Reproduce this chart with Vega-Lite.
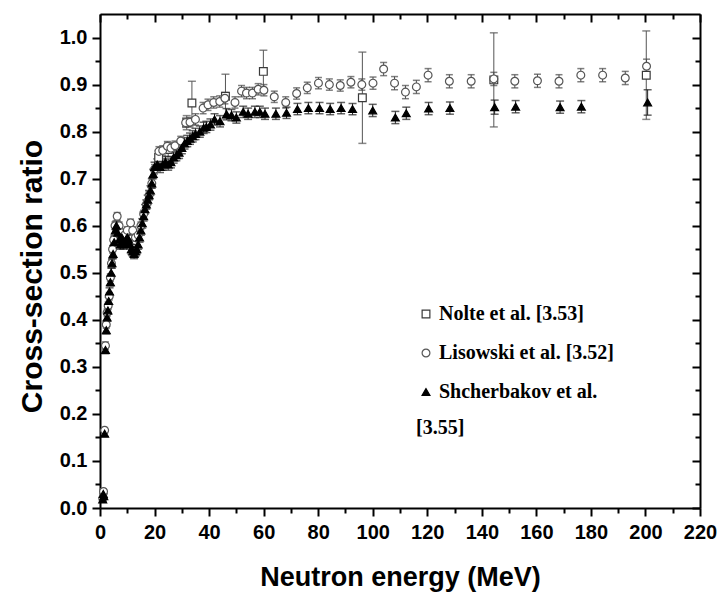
{
  "$schema": "https://vega.github.io/schema/vega-lite/v6.json",
  "width": 600,
  "height": 494,
  "autosize": {"type": "none"},
  "padding": {"left": 100, "top": 14, "right": 19, "bottom": 86},
  "background": "white",
  "config": {
    "view": {"stroke": null},
    "axis": {
      "grid": false,
      "domainColor": "black",
      "domainWidth": 2,
      "tickColor": "black",
      "tickWidth": 2,
      "labelFont": "Liberation Sans",
      "labelFontWeight": "bold",
      "labelFontSize": 20,
      "labelColor": "black",
      "titleFont": "Liberation Sans",
      "titleFontWeight": "bold",
      "titleFontSize": 27,
      "titleColor": "black"
    },
    "legend": {
      "padding": 0,
      "labelFont": "Liberation Serif",
      "labelFontWeight": "bold",
      "labelFontSize": 20,
      "labelColor": "black",
      "labelLimit": 400,
      "symbolStrokeWidth": 1.2,
      "rowPadding": 19,
      "labelOffset": 3,
      "titleFont": "Liberation Serif",
      "titleFontWeight": "bold",
      "titleFontSize": 20,
      "titleColor": "black",
      "titleOrient": "bottom",
      "titleAnchor": "start",
      "titleBaseline": "top",
      "titlePadding": 16
    }
  },
  "datasets": {
    "ratios": [
      {"series": "Nolte et al. [3.53]", "energy": 21.5, "ratio": 0.745, "error": 0.015},
      {"series": "Nolte et al. [3.53]", "energy": 25.0, "ratio": 0.762, "error": 0.015},
      {"series": "Nolte et al. [3.53]", "energy": 31.8, "ratio": 0.819, "error": 0.015},
      {"series": "Nolte et al. [3.53]", "energy": 33.7, "ratio": 0.861, "error": 0.046},
      {"series": "Nolte et al. [3.53]", "energy": 46.0, "ratio": 0.875, "error": 0.047},
      {"series": "Nolte et al. [3.53]", "energy": 59.9, "ratio": 0.928, "error": 0.045},
      {"series": "Nolte et al. [3.53]", "energy": 96.2, "ratio": 0.872, "error": 0.097},
      {"series": "Nolte et al. [3.53]", "energy": 144.4, "ratio": 0.91, "error": 0.1},
      {"series": "Nolte et al. [3.53]", "energy": 200.3, "ratio": 0.92, "error": 0.094},

      {"series": "Lisowski et al. [3.52]", "energy": 1.0, "ratio": 0.02, "error": 0.005},
      {"series": "Lisowski et al. [3.52]", "energy": 1.3, "ratio": 0.035, "error": 0.005},
      {"series": "Lisowski et al. [3.52]", "energy": 1.7, "ratio": 0.165, "error": 0.006},
      {"series": "Lisowski et al. [3.52]", "energy": 2.0, "ratio": 0.345, "error": 0.008},
      {"series": "Lisowski et al. [3.52]", "energy": 2.3, "ratio": 0.39, "error": 0.008},
      {"series": "Lisowski et al. [3.52]", "energy": 2.6, "ratio": 0.415, "error": 0.008},
      {"series": "Lisowski et al. [3.52]", "energy": 3.0, "ratio": 0.43, "error": 0.008},
      {"series": "Lisowski et al. [3.52]", "energy": 3.4, "ratio": 0.45, "error": 0.008},
      {"series": "Lisowski et al. [3.52]", "energy": 3.8, "ratio": 0.49, "error": 0.008},
      {"series": "Lisowski et al. [3.52]", "energy": 4.2, "ratio": 0.52, "error": 0.008},
      {"series": "Lisowski et al. [3.52]", "energy": 4.6, "ratio": 0.55, "error": 0.008},
      {"series": "Lisowski et al. [3.52]", "energy": 5.0, "ratio": 0.57, "error": 0.008},
      {"series": "Lisowski et al. [3.52]", "energy": 5.5, "ratio": 0.6, "error": 0.008},
      {"series": "Lisowski et al. [3.52]", "energy": 6.3, "ratio": 0.62, "error": 0.008},
      {"series": "Lisowski et al. [3.52]", "energy": 7.0, "ratio": 0.6, "error": 0.008},
      {"series": "Lisowski et al. [3.52]", "energy": 8.0, "ratio": 0.585, "error": 0.008},
      {"series": "Lisowski et al. [3.52]", "energy": 9.0, "ratio": 0.58, "error": 0.008},
      {"series": "Lisowski et al. [3.52]", "energy": 10.0, "ratio": 0.59, "error": 0.008},
      {"series": "Lisowski et al. [3.52]", "energy": 11.2, "ratio": 0.606, "error": 0.008},
      {"series": "Lisowski et al. [3.52]", "energy": 12.0, "ratio": 0.59, "error": 0.008},
      {"series": "Lisowski et al. [3.52]", "energy": 13.0, "ratio": 0.575, "error": 0.008},
      {"series": "Lisowski et al. [3.52]", "energy": 14.0, "ratio": 0.58, "error": 0.008},
      {"series": "Lisowski et al. [3.52]", "energy": 15.0, "ratio": 0.6, "error": 0.008},
      {"series": "Lisowski et al. [3.52]", "energy": 16.0, "ratio": 0.625, "error": 0.008},
      {"series": "Lisowski et al. [3.52]", "energy": 17.0, "ratio": 0.645, "error": 0.008},
      {"series": "Lisowski et al. [3.52]", "energy": 18.0, "ratio": 0.665, "error": 0.008},
      {"series": "Lisowski et al. [3.52]", "energy": 19.0, "ratio": 0.69, "error": 0.01},
      {"series": "Lisowski et al. [3.52]", "energy": 20.0, "ratio": 0.72, "error": 0.01},
      {"series": "Lisowski et al. [3.52]", "energy": 21.6, "ratio": 0.758, "error": 0.01},
      {"series": "Lisowski et al. [3.52]", "energy": 23.0, "ratio": 0.76, "error": 0.01},
      {"series": "Lisowski et al. [3.52]", "energy": 24.7, "ratio": 0.769, "error": 0.01},
      {"series": "Lisowski et al. [3.52]", "energy": 26.0, "ratio": 0.765, "error": 0.01},
      {"series": "Lisowski et al. [3.52]", "energy": 27.5, "ratio": 0.77, "error": 0.01},
      {"series": "Lisowski et al. [3.52]", "energy": 29.6, "ratio": 0.78, "error": 0.01},
      {"series": "Lisowski et al. [3.52]", "energy": 31.4, "ratio": 0.819, "error": 0.01},
      {"series": "Lisowski et al. [3.52]", "energy": 33.0, "ratio": 0.82, "error": 0.01},
      {"series": "Lisowski et al. [3.52]", "energy": 35.0, "ratio": 0.826, "error": 0.012},
      {"series": "Lisowski et al. [3.52]", "energy": 37.8, "ratio": 0.85, "error": 0.012},
      {"series": "Lisowski et al. [3.52]", "energy": 39.6, "ratio": 0.857, "error": 0.012},
      {"series": "Lisowski et al. [3.52]", "energy": 41.7, "ratio": 0.862, "error": 0.012},
      {"series": "Lisowski et al. [3.52]", "energy": 43.9, "ratio": 0.864, "error": 0.012},
      {"series": "Lisowski et al. [3.52]", "energy": 45.8, "ratio": 0.871, "error": 0.012},
      {"series": "Lisowski et al. [3.52]", "energy": 49.5, "ratio": 0.862, "error": 0.012},
      {"series": "Lisowski et al. [3.52]", "energy": 51.9, "ratio": 0.886, "error": 0.012},
      {"series": "Lisowski et al. [3.52]", "energy": 53.7, "ratio": 0.882, "error": 0.012},
      {"series": "Lisowski et al. [3.52]", "energy": 55.9, "ratio": 0.882, "error": 0.012},
      {"series": "Lisowski et al. [3.52]", "energy": 58.0, "ratio": 0.89, "error": 0.012},
      {"series": "Lisowski et al. [3.52]", "energy": 60.1, "ratio": 0.888, "error": 0.012},
      {"series": "Lisowski et al. [3.52]", "energy": 63.9, "ratio": 0.874, "error": 0.012},
      {"series": "Lisowski et al. [3.52]", "energy": 68.1, "ratio": 0.862, "error": 0.012},
      {"series": "Lisowski et al. [3.52]", "energy": 72.1, "ratio": 0.881, "error": 0.012},
      {"series": "Lisowski et al. [3.52]", "energy": 76.0, "ratio": 0.893, "error": 0.012},
      {"series": "Lisowski et al. [3.52]", "energy": 80.1, "ratio": 0.903, "error": 0.012},
      {"series": "Lisowski et al. [3.52]", "energy": 84.1, "ratio": 0.9, "error": 0.012},
      {"series": "Lisowski et al. [3.52]", "energy": 88.1, "ratio": 0.898, "error": 0.012},
      {"series": "Lisowski et al. [3.52]", "energy": 92.0, "ratio": 0.905, "error": 0.012},
      {"series": "Lisowski et al. [3.52]", "energy": 96.0, "ratio": 0.9, "error": 0.012},
      {"series": "Lisowski et al. [3.52]", "energy": 100.1, "ratio": 0.903, "error": 0.013},
      {"series": "Lisowski et al. [3.52]", "energy": 104.0, "ratio": 0.933, "error": 0.014},
      {"series": "Lisowski et al. [3.52]", "energy": 108.0, "ratio": 0.903, "error": 0.014},
      {"series": "Lisowski et al. [3.52]", "energy": 112.0, "ratio": 0.884, "error": 0.014},
      {"series": "Lisowski et al. [3.52]", "energy": 116.0, "ratio": 0.895, "error": 0.014},
      {"series": "Lisowski et al. [3.52]", "energy": 120.3, "ratio": 0.92, "error": 0.014},
      {"series": "Lisowski et al. [3.52]", "energy": 128.1, "ratio": 0.907, "error": 0.014},
      {"series": "Lisowski et al. [3.52]", "energy": 136.1, "ratio": 0.907, "error": 0.014},
      {"series": "Lisowski et al. [3.52]", "energy": 144.4, "ratio": 0.912, "error": 0.014},
      {"series": "Lisowski et al. [3.52]", "energy": 152.1, "ratio": 0.907, "error": 0.014},
      {"series": "Lisowski et al. [3.52]", "energy": 160.4, "ratio": 0.908, "error": 0.014},
      {"series": "Lisowski et al. [3.52]", "energy": 168.3, "ratio": 0.907, "error": 0.014},
      {"series": "Lisowski et al. [3.52]", "energy": 176.3, "ratio": 0.92, "error": 0.014},
      {"series": "Lisowski et al. [3.52]", "energy": 184.3, "ratio": 0.92, "error": 0.014},
      {"series": "Lisowski et al. [3.52]", "energy": 192.6, "ratio": 0.914, "error": 0.014},
      {"series": "Lisowski et al. [3.52]", "energy": 200.4, "ratio": 0.939, "error": 0.015},

      {"series": "Shcherbakov et al. [3.55]", "energy": 1.0, "ratio": 0.018, "error": 0.005},
      {"series": "Shcherbakov et al. [3.55]", "energy": 1.2, "ratio": 0.03, "error": 0.005},
      {"series": "Shcherbakov et al. [3.55]", "energy": 1.4, "ratio": 0.025, "error": 0.005},
      {"series": "Shcherbakov et al. [3.55]", "energy": 1.7, "ratio": 0.158, "error": 0.006},
      {"series": "Shcherbakov et al. [3.55]", "energy": 2.0, "ratio": 0.336, "error": 0.008},
      {"series": "Shcherbakov et al. [3.55]", "energy": 2.3, "ratio": 0.378, "error": 0.008},
      {"series": "Shcherbakov et al. [3.55]", "energy": 2.6, "ratio": 0.405, "error": 0.008},
      {"series": "Shcherbakov et al. [3.55]", "energy": 2.9, "ratio": 0.42, "error": 0.008},
      {"series": "Shcherbakov et al. [3.55]", "energy": 3.2, "ratio": 0.44, "error": 0.008},
      {"series": "Shcherbakov et al. [3.55]", "energy": 3.5, "ratio": 0.46, "error": 0.008},
      {"series": "Shcherbakov et al. [3.55]", "energy": 3.8, "ratio": 0.48, "error": 0.008},
      {"series": "Shcherbakov et al. [3.55]", "energy": 4.1, "ratio": 0.5, "error": 0.01},
      {"series": "Shcherbakov et al. [3.55]", "energy": 4.4, "ratio": 0.52, "error": 0.01},
      {"series": "Shcherbakov et al. [3.55]", "energy": 4.8, "ratio": 0.54, "error": 0.01},
      {"series": "Shcherbakov et al. [3.55]", "energy": 5.2, "ratio": 0.565, "error": 0.01},
      {"series": "Shcherbakov et al. [3.55]", "energy": 5.6, "ratio": 0.59, "error": 0.01},
      {"series": "Shcherbakov et al. [3.55]", "energy": 6.0, "ratio": 0.6, "error": 0.01},
      {"series": "Shcherbakov et al. [3.55]", "energy": 6.5, "ratio": 0.585, "error": 0.01},
      {"series": "Shcherbakov et al. [3.55]", "energy": 7.0, "ratio": 0.57, "error": 0.01},
      {"series": "Shcherbakov et al. [3.55]", "energy": 7.5, "ratio": 0.56, "error": 0.01},
      {"series": "Shcherbakov et al. [3.55]", "energy": 8.0, "ratio": 0.575, "error": 0.01},
      {"series": "Shcherbakov et al. [3.55]", "energy": 8.5, "ratio": 0.56, "error": 0.01},
      {"series": "Shcherbakov et al. [3.55]", "energy": 9.0, "ratio": 0.565, "error": 0.01},
      {"series": "Shcherbakov et al. [3.55]", "energy": 9.5, "ratio": 0.57, "error": 0.01},
      {"series": "Shcherbakov et al. [3.55]", "energy": 10.0, "ratio": 0.575, "error": 0.01},
      {"series": "Shcherbakov et al. [3.55]", "energy": 10.5, "ratio": 0.57, "error": 0.01},
      {"series": "Shcherbakov et al. [3.55]", "energy": 11.0, "ratio": 0.56, "error": 0.01},
      {"series": "Shcherbakov et al. [3.55]", "energy": 11.5, "ratio": 0.55, "error": 0.01},
      {"series": "Shcherbakov et al. [3.55]", "energy": 12.0, "ratio": 0.545, "error": 0.01},
      {"series": "Shcherbakov et al. [3.55]", "energy": 12.5, "ratio": 0.54, "error": 0.01},
      {"series": "Shcherbakov et al. [3.55]", "energy": 13.0, "ratio": 0.545, "error": 0.01},
      {"series": "Shcherbakov et al. [3.55]", "energy": 13.5, "ratio": 0.55, "error": 0.01},
      {"series": "Shcherbakov et al. [3.55]", "energy": 14.0, "ratio": 0.56, "error": 0.01},
      {"series": "Shcherbakov et al. [3.55]", "energy": 14.5, "ratio": 0.575, "error": 0.01},
      {"series": "Shcherbakov et al. [3.55]", "energy": 15.0, "ratio": 0.59, "error": 0.01},
      {"series": "Shcherbakov et al. [3.55]", "energy": 15.5, "ratio": 0.605, "error": 0.01},
      {"series": "Shcherbakov et al. [3.55]", "energy": 16.0, "ratio": 0.62, "error": 0.01},
      {"series": "Shcherbakov et al. [3.55]", "energy": 16.5, "ratio": 0.635, "error": 0.01},
      {"series": "Shcherbakov et al. [3.55]", "energy": 17.0, "ratio": 0.645, "error": 0.01},
      {"series": "Shcherbakov et al. [3.55]", "energy": 17.5, "ratio": 0.655, "error": 0.01},
      {"series": "Shcherbakov et al. [3.55]", "energy": 18.0, "ratio": 0.665, "error": 0.01},
      {"series": "Shcherbakov et al. [3.55]", "energy": 18.5, "ratio": 0.675, "error": 0.01},
      {"series": "Shcherbakov et al. [3.55]", "energy": 19.0, "ratio": 0.69, "error": 0.01},
      {"series": "Shcherbakov et al. [3.55]", "energy": 19.5, "ratio": 0.71, "error": 0.01},
      {"series": "Shcherbakov et al. [3.55]", "energy": 20.0, "ratio": 0.725, "error": 0.01},
      {"series": "Shcherbakov et al. [3.55]", "energy": 21.0, "ratio": 0.73, "error": 0.012},
      {"series": "Shcherbakov et al. [3.55]", "energy": 22.0, "ratio": 0.725, "error": 0.012},
      {"series": "Shcherbakov et al. [3.55]", "energy": 23.0, "ratio": 0.73, "error": 0.012},
      {"series": "Shcherbakov et al. [3.55]", "energy": 24.0, "ratio": 0.735, "error": 0.012},
      {"series": "Shcherbakov et al. [3.55]", "energy": 25.0, "ratio": 0.73, "error": 0.012},
      {"series": "Shcherbakov et al. [3.55]", "energy": 26.0, "ratio": 0.735, "error": 0.012},
      {"series": "Shcherbakov et al. [3.55]", "energy": 27.0, "ratio": 0.745, "error": 0.012},
      {"series": "Shcherbakov et al. [3.55]", "energy": 28.0, "ratio": 0.75, "error": 0.012},
      {"series": "Shcherbakov et al. [3.55]", "energy": 29.0, "ratio": 0.755, "error": 0.012},
      {"series": "Shcherbakov et al. [3.55]", "energy": 30.0, "ratio": 0.765, "error": 0.012},
      {"series": "Shcherbakov et al. [3.55]", "energy": 31.0, "ratio": 0.775, "error": 0.012},
      {"series": "Shcherbakov et al. [3.55]", "energy": 32.0, "ratio": 0.78, "error": 0.012},
      {"series": "Shcherbakov et al. [3.55]", "energy": 33.0, "ratio": 0.785, "error": 0.012},
      {"series": "Shcherbakov et al. [3.55]", "energy": 34.0, "ratio": 0.79, "error": 0.012},
      {"series": "Shcherbakov et al. [3.55]", "energy": 35.0, "ratio": 0.795, "error": 0.012},
      {"series": "Shcherbakov et al. [3.55]", "energy": 36.6, "ratio": 0.8, "error": 0.012},
      {"series": "Shcherbakov et al. [3.55]", "energy": 38.0, "ratio": 0.808, "error": 0.012},
      {"series": "Shcherbakov et al. [3.55]", "energy": 39.0, "ratio": 0.81, "error": 0.012},
      {"series": "Shcherbakov et al. [3.55]", "energy": 40.5, "ratio": 0.815, "error": 0.012},
      {"series": "Shcherbakov et al. [3.55]", "energy": 42.0, "ratio": 0.826, "error": 0.012},
      {"series": "Shcherbakov et al. [3.55]", "energy": 44.0, "ratio": 0.822, "error": 0.012},
      {"series": "Shcherbakov et al. [3.55]", "energy": 46.4, "ratio": 0.837, "error": 0.012},
      {"series": "Shcherbakov et al. [3.55]", "energy": 48.2, "ratio": 0.835, "error": 0.012},
      {"series": "Shcherbakov et al. [3.55]", "energy": 50.0, "ratio": 0.83, "error": 0.012},
      {"series": "Shcherbakov et al. [3.55]", "energy": 52.5, "ratio": 0.842, "error": 0.012},
      {"series": "Shcherbakov et al. [3.55]", "energy": 54.3, "ratio": 0.838, "error": 0.012},
      {"series": "Shcherbakov et al. [3.55]", "energy": 56.8, "ratio": 0.842, "error": 0.012},
      {"series": "Shcherbakov et al. [3.55]", "energy": 58.6, "ratio": 0.842, "error": 0.012},
      {"series": "Shcherbakov et al. [3.55]", "energy": 60.5, "ratio": 0.838, "error": 0.012},
      {"series": "Shcherbakov et al. [3.55]", "energy": 64.5, "ratio": 0.838, "error": 0.012},
      {"series": "Shcherbakov et al. [3.55]", "energy": 68.4, "ratio": 0.84, "error": 0.012},
      {"series": "Shcherbakov et al. [3.55]", "energy": 72.4, "ratio": 0.848, "error": 0.012},
      {"series": "Shcherbakov et al. [3.55]", "energy": 76.4, "ratio": 0.85, "error": 0.012},
      {"series": "Shcherbakov et al. [3.55]", "energy": 80.5, "ratio": 0.85, "error": 0.012},
      {"series": "Shcherbakov et al. [3.55]", "energy": 84.4, "ratio": 0.848, "error": 0.012},
      {"series": "Shcherbakov et al. [3.55]", "energy": 88.4, "ratio": 0.85, "error": 0.012},
      {"series": "Shcherbakov et al. [3.55]", "energy": 92.6, "ratio": 0.848, "error": 0.012},
      {"series": "Shcherbakov et al. [3.55]", "energy": 100.0, "ratio": 0.845, "error": 0.013},
      {"series": "Shcherbakov et al. [3.55]", "energy": 108.3, "ratio": 0.83, "error": 0.013},
      {"series": "Shcherbakov et al. [3.55]", "energy": 112.3, "ratio": 0.839, "error": 0.013},
      {"series": "Shcherbakov et al. [3.55]", "energy": 120.5, "ratio": 0.849, "error": 0.013},
      {"series": "Shcherbakov et al. [3.55]", "energy": 128.3, "ratio": 0.85, "error": 0.013},
      {"series": "Shcherbakov et al. [3.55]", "energy": 144.7, "ratio": 0.852, "error": 0.015},
      {"series": "Shcherbakov et al. [3.55]", "energy": 152.4, "ratio": 0.853, "error": 0.013},
      {"series": "Shcherbakov et al. [3.55]", "energy": 168.7, "ratio": 0.852, "error": 0.013},
      {"series": "Shcherbakov et al. [3.55]", "energy": 176.5, "ratio": 0.853, "error": 0.013},
      {"series": "Shcherbakov et al. [3.55]", "energy": 200.8, "ratio": 0.862, "error": 0.027}
    ]
  },
  "data": {"name": "ratios"},
  "layer": [
    {
      "transform": [{"filter": "datum.series === 'Nolte et al. [3.53]'"}],
      "mark": {"type": "errorbar", "ticks": {"size": 8, "thickness": 1.5}, "color": "#555555", "thickness": 1},
      "encoding": {
        "x": {
          "field": "energy", "type": "quantitative",
          "scale": {"domain": [0, 220], "nice": false, "zero": false},
          "axis": {
            "orient": "bottom", "values": [0, 20, 40, 60, 80, 100, 120, 140, 160, 180, 200, 220],
            "tickSize": 8, "labelPadding": 6, "labelFlush": false, "labelOverlap": false,
            "title": "Neutron energy (MeV)", "titleX": 300, "titleY": 77, "titleBaseline": "alphabetic"
          }
        },
        "y": {
          "field": "ratio", "type": "quantitative",
          "scale": {"domain": [0, 1.05], "nice": false, "zero": false},
          "axis": {
            "orient": "left", "values": [0, 0.1, 0.2, 0.3, 0.4, 0.5, 0.6, 0.7, 0.8, 0.9, 1.0],
            "format": ".1f", "tickSize": 8, "labelPadding": 5, "labelFlush": false, "labelOverlap": false,
            "title": "Cross-section ratio", "titleFontSize": 30, "titleX": -59, "titleY": 262,
            "titleBaseline": "alphabetic", "titleAngle": 270
          }
        },
        "yError": {"field": "error"}
      }
    },
    {
      "transform": [{"filter": "datum.series === 'Lisowski et al. [3.52]'"}],
      "mark": {"type": "errorbar", "ticks": {"size": 7, "thickness": 1.5}, "color": "#4a4a4a", "thickness": 1},
      "encoding": {
        "x": {
          "field": "energy", "type": "quantitative",
          "scale": {"domain": [0, 220], "nice": false, "zero": false},
          "axis": {"orient": "bottom", "values": [10, 30, 50, 70, 90, 110, 130, 150, 170, 190, 210], "tickSize": 5, "labels": false, "domain": false, "title": null}
        },
        "y": {
          "field": "ratio", "type": "quantitative",
          "scale": {"domain": [0, 1.05], "nice": false, "zero": false},
          "axis": {"orient": "left", "values": [0.05, 0.15, 0.25, 0.35, 0.45, 0.55, 0.65, 0.75, 0.85, 0.95], "tickSize": 5, "labels": false, "domain": false, "title": null}
        },
        "yError": {"field": "error"}
      }
    },
    {
      "transform": [{"filter": "datum.series === 'Shcherbakov et al. [3.55]'"}],
      "mark": {"type": "errorbar", "ticks": {"size": 8, "thickness": 1.5}, "color": "#222222", "thickness": 1},
      "encoding": {
        "x": {
          "field": "energy", "type": "quantitative",
          "scale": {"domain": [0, 220], "nice": false, "zero": false},
          "axis": {"orient": "top", "values": [0, 20, 40, 60, 80, 100, 120, 140, 160, 180, 200, 220], "tickSize": -8, "labels": false, "domain": true, "title": null}
        },
        "y": {
          "field": "ratio", "type": "quantitative",
          "scale": {"domain": [0, 1.05], "nice": false, "zero": false},
          "axis": {"orient": "right", "values": [0, 0.1, 0.2, 0.3, 0.4, 0.5, 0.6, 0.7, 0.8, 0.9, 1.0], "tickSize": -8, "labels": false, "domain": true, "title": null}
        },
        "yError": {"field": "error"}
      }
    },
    {
      "mark": {"type": "point", "filled": true, "opacity": 1, "strokeWidth": 1.2},
      "encoding": {
        "x": {
          "field": "energy", "type": "quantitative",
          "scale": {"domain": [0, 220], "nice": false, "zero": false},
          "axis": {"orient": "top", "values": [10, 30, 50, 70, 90, 110, 130, 150, 170, 190, 210], "tickSize": -5, "labels": false, "domain": false, "title": null}
        },
        "y": {
          "field": "ratio", "type": "quantitative",
          "scale": {"domain": [0, 1.05], "nice": false, "zero": false},
          "axis": {"orient": "right", "values": [0.05, 0.15, 0.25, 0.35, 0.45, 0.55, 0.65, 0.75, 0.85, 0.95], "tickSize": -5, "labels": false, "domain": false, "title": null}
        },
        "shape": {
          "field": "series", "type": "nominal",
          "scale": {"domain": ["Nolte et al. [3.53]", "Lisowski et al. [3.52]", "Shcherbakov et al. [3.55]"], "range": ["square", "circle", "triangle-up"]},
          "legend": {
            "title": "[3.55]", "orient": "none", "legendX": 316, "legendY": 290,
            "labelExpr": "datum.label === 'Shcherbakov et al. [3.55]' ? 'Shcherbakov et al.' : datum.label"
          }
        },
        "size": {
          "field": "series", "type": "nominal",
          "scale": {"domain": ["Nolte et al. [3.53]", "Lisowski et al. [3.52]", "Shcherbakov et al. [3.55]"], "range": [60, 62, 105]},
          "legend": {
            "title": "[3.55]", "orient": "none", "legendX": 316, "legendY": 290,
            "labelExpr": "datum.label === 'Shcherbakov et al. [3.55]' ? 'Shcherbakov et al.' : datum.label"
          }
        },
        "fill": {
          "field": "series", "type": "nominal",
          "scale": {"domain": ["Nolte et al. [3.53]", "Lisowski et al. [3.52]", "Shcherbakov et al. [3.55]"], "range": ["white", "white", "black"]},
          "legend": {
            "title": "[3.55]", "orient": "none", "legendX": 316, "legendY": 290,
            "labelExpr": "datum.label === 'Shcherbakov et al. [3.55]' ? 'Shcherbakov et al.' : datum.label"
          }
        },
        "stroke": {
          "field": "series", "type": "nominal",
          "scale": {"domain": ["Nolte et al. [3.53]", "Lisowski et al. [3.52]", "Shcherbakov et al. [3.55]"], "range": ["#3a3a3a", "#555555", "black"]},
          "legend": {
            "title": "[3.55]", "orient": "none", "legendX": 316, "legendY": 290,
            "labelExpr": "datum.label === 'Shcherbakov et al. [3.55]' ? 'Shcherbakov et al.' : datum.label"
          }
        }
      }
    }
  ],
  "resolve": {"axis": {"x": "independent", "y": "independent"}}
}
